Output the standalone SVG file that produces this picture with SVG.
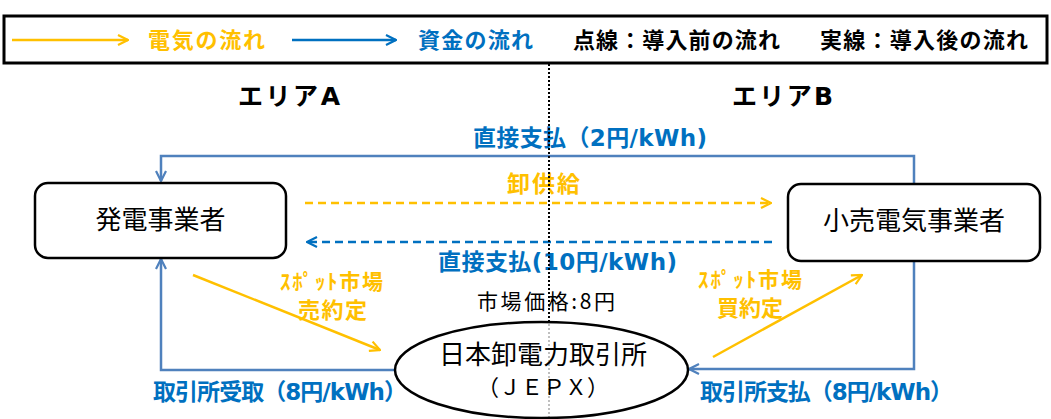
<svg xmlns="http://www.w3.org/2000/svg" width="1051" height="419" viewBox="0 0 1051 419">
<defs>
<style>
.jp{font-family:"Noto Sans CJK JP","Liberation Sans",sans-serif}
.lt{font-family:"DejaVu Sans","Noto Sans CJK JP",sans-serif}
.b{font-weight:bold}
.or{fill:#FFC000}
.bl{fill:#0070C0}
.bk{fill:#000}
.node{fill:#fff;stroke:#000;stroke-width:2.5}
.cb{fill:none;stroke:#4F81BD;stroke-width:2.5}
.co{fill:none;stroke:#FFC000;stroke-width:2.5}
.cbd{fill:none;stroke:#0070C0;stroke-width:2.5;stroke-dasharray:8 5}
.cod{fill:none;stroke:#FFC000;stroke-width:2.5;stroke-dasharray:8 5}
</style>
<marker id="ab" viewBox="0 0 12 12" refX="11" refY="6" markerWidth="12" markerHeight="12" markerUnits="userSpaceOnUse" orient="auto"><path d="M1,1 L11,6 L1,11" fill="none" stroke="#4F81BD" stroke-width="2.2"/></marker>
<marker id="abd" viewBox="0 0 12 12" refX="11" refY="6" markerWidth="12" markerHeight="12" markerUnits="userSpaceOnUse" orient="auto"><path d="M1,1 L11,6 L1,11" fill="none" stroke="#0070C0" stroke-width="2.2"/></marker>
<marker id="ao" viewBox="0 0 12 12" refX="11" refY="6" markerWidth="12" markerHeight="12" markerUnits="userSpaceOnUse" orient="auto"><path d="M1,1 L11,6 L1,11" fill="none" stroke="#FFC000" stroke-width="2.2"/></marker>
</defs>
<rect width="1051" height="419" fill="#fff"/>
<g id="legend">
<rect x="4" y="16" width="1043" height="47" fill="#fff" stroke="#000" stroke-width="3"/>
<path d="M12,40 H128" class="co" marker-end="url(#ao)"/>
<text x="148" y="48" class="jp b or" font-size="22" textLength="117">電気の流れ</text>
<path d="M292,40 H396" fill="none" stroke="#0070C0" stroke-width="2.5" marker-end="url(#abd)"/>
<text x="418" y="48" class="jp b bl" font-size="22" textLength="115">資金の流れ</text>
<text x="573" y="48" class="jp b bk" font-size="22" textLength="207">点線：導入前の流れ</text>
<text x="820" y="48" class="jp b bk" font-size="22" textLength="208">実線：導入後の流れ</text>
</g>
<g id="areas">
<text x="238" y="105" class="lt b bk" font-size="25" textLength="102">エリアA</text>
<text x="732" y="105" class="lt b bk" font-size="25" textLength="101">エリアB</text>
</g>
<g id="connectors">
<path d="M914,184 V156 H161 V181" class="cb" marker-end="url(#ab)"/>
<path d="M914,261 V369 H689" class="cb" marker-end="url(#ab)"/>
<path d="M395,370 H161 V259" class="cb" marker-end="url(#ab)"/>
<path d="M305,203 H771" class="cod" marker-end="url(#ao)"/>
<path d="M772,242 H307" class="cbd" marker-end="url(#abd)"/>
<path d="M193,275 L380,350" class="co" marker-end="url(#ao)"/>
<path d="M713,357 L862,275" class="co" marker-end="url(#ao)"/>
</g>
<g id="labels">
<text x="473" y="146" class="lt b bl" font-size="23" textLength="234">直接支払（2円/kWh)</text>
<text x="507" y="192" class="jp b or" font-size="23" textLength="73">卸供給</text>
<text x="438" y="270" class="lt b bl" font-size="23" textLength="239">直接支払(10円/kWh)</text>
<text x="280" y="289" class="jp b or" font-size="21" textLength="103">ｽﾎﾟｯﾄ市場</text>
<text x="298" y="318" class="jp b or" font-size="22" textLength="69">売約定</text>
<text x="698" y="287" class="jp b or" font-size="21" textLength="104">ｽﾎﾟｯﾄ市場</text>
<text x="717" y="316" class="jp b or" font-size="22" textLength="66">買約定</text>
<text x="477" y="309" class="jp bk" font-size="21" textLength="138">市場価格:8円</text>
<text x="153" y="400" class="lt b bl" font-size="23" textLength="254">取引所受取（8円/kWh）</text>
<text x="700" y="400" class="lt b bl" font-size="23" textLength="253">取引所支払（8円/kWh）</text>
</g>
<line x1="549" y1="64" x2="549" y2="419" stroke="#000" stroke-width="2" stroke-dasharray="2 2"/>
<g id="node-gen">
<rect x="35" y="183" width="251" height="75" rx="13" class="node"/>
<text x="160.5" y="229" text-anchor="middle" class="jp bk" font-size="26">発電事業者</text>
</g>
<g id="node-retail">
<rect x="788" y="184" width="252" height="77" rx="13" class="node"/>
<text x="914" y="230" text-anchor="middle" class="jp bk" font-size="26">小売電気事業者</text>
</g>
<g id="node-jepx">
<ellipse cx="541.5" cy="370" rx="146.5" ry="48" fill="#fff" fill-opacity="0.75" stroke="#000" stroke-width="2.5"/>
<text x="543" y="364" text-anchor="middle" class="jp bk" font-size="26">日本卸電力取引所</text>
<text x="543" y="395" text-anchor="middle" class="jp bk" font-size="22">（ＪＥＰＸ）</text>
</g>
</svg>
